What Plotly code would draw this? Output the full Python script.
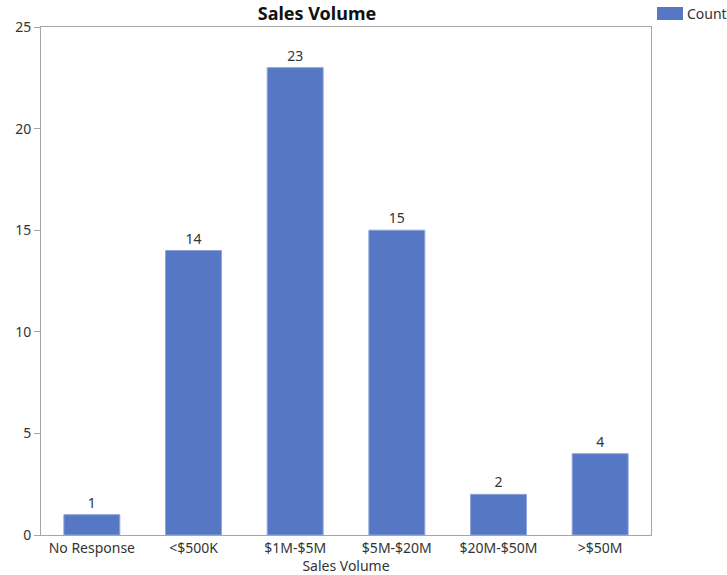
import plotly.graph_objects as go

categories = ["No Response", "<$500K", "$1M-$5M", "$5M-$20M", "$20M-$50M", ">$50M"]
counts = [1, 14, 23, 15, 2, 4]
series_name = "Count"
y_ticks = [0, 5, 10, 15, 20, 25]

BAR = "#5677c4"
AXIS = "#a6a6a6"
TEXT = "#333333"
FONT = "Noto Sans"

W, H = 727, 575
L, R, T, B = 41, 76, 27, 40

fig = go.Figure(go.Bar(
    x=categories, y=counts, name=series_name,
    marker=dict(color=BAR, line=dict(color="#8ea3dc", width=1)),
    text=counts, textposition="outside", cliponaxis=False,
    textfont=dict(family=FONT, size=14, color=TEXT),
    showlegend=False,
))

fig.update_layout(
    width=W, height=H,
    margin=dict(l=L, r=R, t=T, b=B, pad=0, autoexpand=False),
    paper_bgcolor="white", plot_bgcolor="white",
    bargap=0.45,
    font=dict(family=FONT, size=12, color=TEXT),
    title=dict(text="<b>Sales Volume</b>", x=317 / W, xanchor="center",
               y=1 - 14 / H, yanchor="middle",
               font=dict(family=FONT, size=18, color="#111111")),
)

fig.update_xaxes(
    showline=True, linecolor=AXIS, linewidth=1, mirror=True,
    ticks="", showgrid=False, automargin=False,
    tickfont=dict(family=FONT, size=14, color=TEXT),
    title=dict(text="Sales Volume", standoff=0,
               font=dict(family=FONT, size=14, color=TEXT)),
)
fig.update_yaxes(
    range=[0, 25], tickvals=y_ticks, automargin=False,
    showline=True, linecolor=AXIS, linewidth=1, mirror=True,
    ticks="outside", ticklen=6, tickcolor=AXIS,
    showgrid=False, zeroline=False,
    tickfont=dict(family=FONT, size=14, color=TEXT),
)

# legend swatch and label
fig.add_shape(type="rect", xref="paper", yref="paper",
              x0=(657 - L) / (W - L - R), x1=(683 - L) / (W - L - R),
              y0=1 + (T - 20) / (H - T - B), y1=1 + (T - 7) / (H - T - B),
              fillcolor=BAR, line=dict(width=0))
fig.add_annotation(text=series_name, xref="paper", yref="paper",
                   x=(685 - L) / (W - L - R), xanchor="left",
                   y=1 + (T - 13.5) / (H - T - B), yanchor="middle",
                   showarrow=False, font=dict(family=FONT, size=14, color=TEXT))

fig.write_html("out.html")
